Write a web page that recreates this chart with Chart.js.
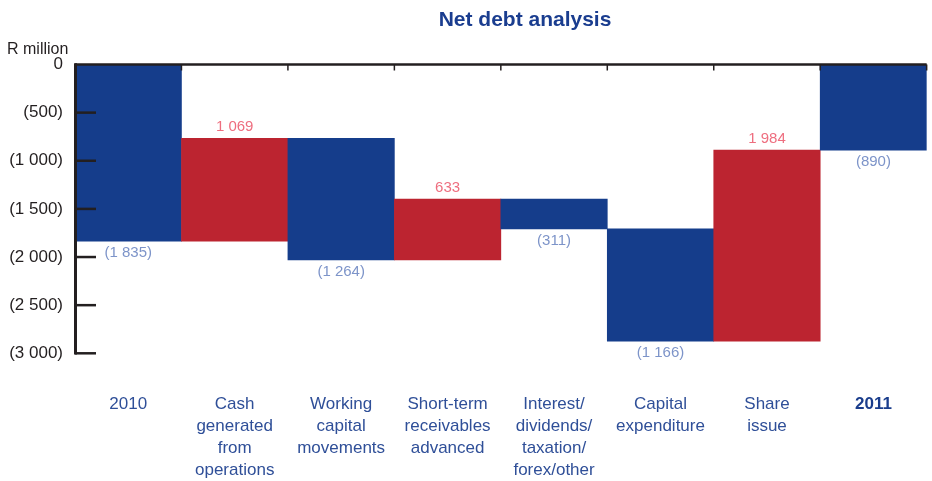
<!DOCTYPE html>
<html>
<head>
<meta charset="utf-8">
<script src="https://cdn.jsdelivr.net/npm/chart.js@4/dist/chart.umd.min.js"></script>
<style>
  html, body { margin: 0; padding: 0; background: #ffffff; }
  #wrap { position: relative; width: 932px; height: 481px; overflow: hidden; }
  #c { position: absolute; left: 0; top: 0; }
  .txt { position: absolute; white-space: nowrap; line-height: 1; font-family: "Liberation Sans", Arial, sans-serif; }
  #title { left: 525px; top: 8px; transform: translateX(-50%); font-size: 21px; font-weight: bold; color: #1a3d8f; }
  #unit { left: 7px; top: 41px; font-size: 16px; color: #231f20; }
</style>
</head>
<body>
<div id="wrap">
  <canvas id="c" width="932" height="481"></canvas>
  <div class="txt" id="title">Net debt analysis</div>
  <div class="txt" id="unit">R million</div>
</div>
<script>
// ---- data ----
const categories = [
  ['2010'],
  ['Cash', 'generated', 'from', 'operations'],
  ['Working', 'capital', 'movements'],
  ['Short-term', 'receivables', 'advanced'],
  ['Interest/', 'dividends/', 'taxation/', 'forex/other'],
  ['Capital', 'expenditure'],
  ['Share', 'issue'],
  ['2011']
];
const changes = [-1835, 1069, -1264, 633, -311, -1166, 1984, -890];
const isTotal = [true, false, false, false, false, false, false, true];
const yTickValues = [0, -500, -1000, -1500, -2000, -2500, -3000];

// ---- floating bar ranges built from the changes ----
const ranges = [];
let running = 0;
changes.forEach((v, i) => {
  if (isTotal[i]) { ranges.push([0, v]); running = v; }
  else { ranges.push([running, running + v]); running += v; }
});

const BLUE = '#153d8b';
const RED = '#bc2430';
const FONT = '"Liberation Sans", Arial, sans-serif';

function fmt(v) {
  const s = String(Math.abs(v)).replace(/\B(?=(\d{3})+(?!\d))/g, ' ');
  return v < 0 ? '(' + s + ')' : s;
}

const decor = {
  id: 'decor',
  afterDatasetsDraw(chart) {
    const { ctx, chartArea: a, scales: { x, y } } = chart;
    const meta = chart.getDatasetMeta(0);
    ctx.save();
    ctx.strokeStyle = '#231f20';
    ctx.lineCap = 'butt';
    const y0 = y.getPixelForValue(0);
    const yMin = y.getPixelForValue(y.min);
    // top line
    ctx.lineWidth = 2.5;
    ctx.beginPath(); ctx.moveTo(a.left, y0); ctx.lineTo(a.right, y0); ctx.stroke();
    // category boundary ticks (pointing down)
    ctx.lineWidth = 1.5;
    meta.data.forEach((bar) => {
      const bx = bar.x + bar.width / 2;
      ctx.beginPath(); ctx.moveTo(bx, y0); ctx.lineTo(bx, y0 + 6); ctx.stroke();
    });
    // y axis line
    ctx.lineWidth = 3;
    ctx.beginPath(); ctx.moveTo(a.left + 0.5, y0 - 1.2); ctx.lineTo(a.left + 0.5, yMin + 1.2); ctx.stroke();
    // y tick marks (pointing right)
    ctx.lineWidth = 2.5;
    yTickValues.forEach((v) => {
      if (v === 0) return;
      const py = y.getPixelForValue(v);
      ctx.beginPath(); ctx.moveTo(a.left, py); ctx.lineTo(a.left + 21, py); ctx.stroke();
    });
    // value labels
    ctx.font = '15px ' + FONT;
    ctx.textAlign = 'center';
    ctx.textBaseline = 'middle';
    meta.data.forEach((bar, i) => {
      const v = changes[i];
      const top = Math.min(bar.y, bar.base);
      const bottom = Math.max(bar.y, bar.base);
      if (v >= 0) {
        ctx.fillStyle = '#ee6e7f';
        ctx.fillText(fmt(v), bar.x, top - 11);
      } else {
        ctx.fillStyle = '#7d94c9';
        ctx.fillText(fmt(v), bar.x, bottom + 12);
      }
    });
    ctx.restore();
  }
};

new Chart(document.getElementById('c'), {
  type: 'bar',
  data: {
    labels: categories,
    datasets: [{
      data: ranges,
      backgroundColor: changes.map((v, i) => v >= 0 ? RED : BLUE),
      borderWidth: 0,
      borderSkipped: false,
      barPercentage: 1,
      categoryPercentage: 1
    }]
  },
  options: {
    responsive: false,
    animation: false,
    devicePixelRatio: 1,
    layout: { padding: { top: 64.5, right: 2, bottom: 0, left: 0 } },
    plugins: {
      legend: { display: false },
      title: { display: false },
      tooltip: { enabled: false }
    },
    scales: {
      x: {
        afterFit: (s) => { s.height = 127.7; },
        grid: { display: false, drawTicks: false },
        border: { display: false },
        ticks: {
          autoSkip: false,
          maxRotation: 0,
          minRotation: 0,
          padding: 40,
          color: (c) => c.index === 7 ? '#1a3d8c' : '#2f4f98',
          font: (c) => ({ family: FONT, size: 17, lineHeight: 1.3, weight: c.index === 7 ? 'bold' : 'normal' })
        }
      },
      y: {
        min: -3000,
        max: 0,
        afterFit: (s) => { s.width = 75; },
        afterBuildTicks: (s) => { s.ticks = yTickValues.map(v => ({ value: v })); },
        grid: { display: false, drawTicks: false },
        border: { display: false },
        ticks: {
          padding: 12,
          color: '#231f20',
          font: { family: FONT, size: 17 },
          callback: (v) => fmt(v)
        }
      }
    }
  },
  plugins: [decor]
});
</script>
</body>
</html>
